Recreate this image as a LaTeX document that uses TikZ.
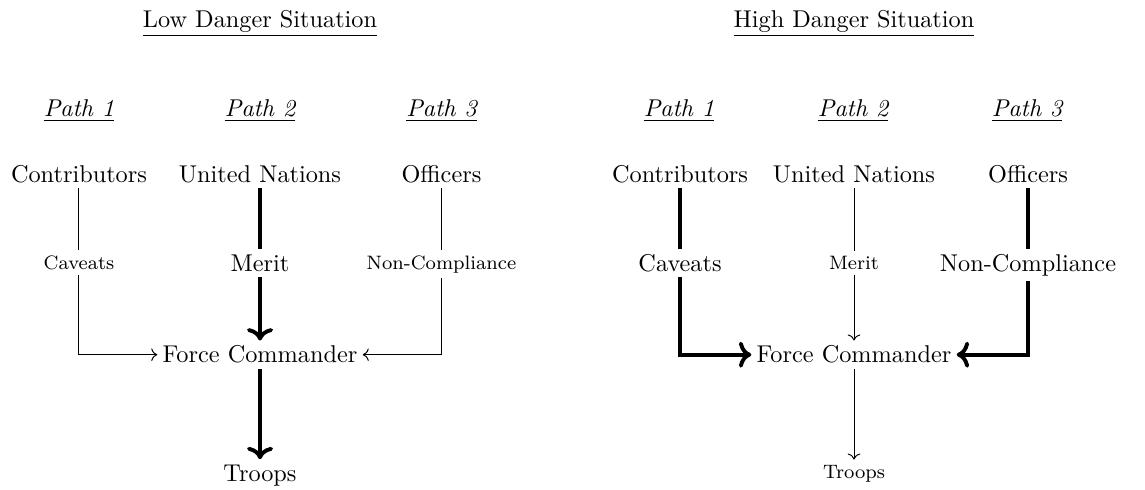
\documentclass[tikz,border=0pt]{standalone}
\usetikzlibrary{arrows.meta}
\begin{document}
\begin{tikzpicture}
[auto,
% STYLES
every node/.style={inner sep=2pt},
% The title style is used to name each situation
title/.style={anchor=base},
% The pathhead style is used for the heading of each path
pathhead/.style={anchor=base, font=\itshape},
% The actor style is used to draw the actors' names at full size
actor/.style={anchor=base},
% The minor style is used to draw the names on the weak paths
minor/.style={anchor=base, font=\footnotesize},
% The link styles are used to draw the paths
weak/.style={->},
strong/.style={-{Computer Modern Rightarrow}, ultra thick}]

\useasboundingbox (0,0) rectangle (16.57,-7.077);

%%%%%%%%%%%%%%%
% Low danger situation
\node [title] (lowtitle) at (3.763,-0.391) {\underline{Low Danger Situation}};
\node [pathhead] (lowpathA) at (1.143,-1.693) {\underline{Path 1}};
\node [pathhead] (lowpathB) at (3.763,-1.693) {\underline{Path 2}};
\node [pathhead] (lowpathC) at (6.389,-1.693) {\underline{Path 3}};

\node [actor] (lowcontrib) at (1.143,-2.634) {Contributors};
\node [actor] (lowun) at (3.763,-2.634) {United Nations};
\node [actor] (lowofficers) at (6.389,-2.634) {Officers};

\node [minor] (lowcaveats) at (1.143,-3.895) {Caveats};
\node [actor] (lowmerit) at (3.763,-3.922) {Merit};
\node [minor] (lownoncomp) at (6.389,-3.895) {Non-Compliance};

\node [actor] (lowfc) at (3.763,-5.253) {Force Commander};
\node [actor] (lowtroops) at (3.763,-6.961) {Troops};

%%%%%%%%%%%%%%%
% High danger situation
\node [title] (hightitle) at (12.359,-0.391) {\underline{High Danger Situation}};
\node [pathhead] (highpathA) at (9.826,-1.693) {\underline{Path 1}};
\node [pathhead] (highpathB) at (12.345,-1.693) {\underline{Path 2}};
\node [pathhead] (highpathC) at (14.863,-1.693) {\underline{Path 3}};

\node [actor] (highcontrib) at (9.841,-2.634) {Contributors};
\node [actor] (highun) at (12.359,-2.634) {United Nations};
\node [actor] (highofficers) at (14.877,-2.634) {Officers};

\node [actor] (highcaveats) at (9.841,-3.922) {Caveats};
\node [minor] (highmerit) at (12.359,-3.895) {Merit};
\node [actor] (highnoncomp) at (14.877,-3.922) {Non-Compliance};

\node [actor] (highfc) at (12.359,-5.253) {Force Commander};
\node [minor] (hightroops) at (12.359,-6.918) {Troops};

%%%%%%%%%%%%%%%
% Draw the links
\draw [weak, -] (lowcontrib) -- (lowcaveats);
\draw [weak] (lowcaveats) |- (lowfc);
\draw [strong, -] (lowun) -- (lowmerit);
\draw [strong] (lowmerit) -- (lowfc);
\draw [weak, -] (lowofficers) -- (lownoncomp);
\draw [weak] (lownoncomp) |- (lowfc);
\draw [strong] (lowfc) -- (lowtroops);

\draw [strong, -] (highcontrib) -- (highcaveats);
\draw [strong] (highcaveats) |- (highfc);
\draw [weak, -] (highun) -- (highmerit);
\draw [weak] (highmerit) -- (highfc);
\draw [strong, -] (highofficers) -- (highnoncomp);
\draw [strong] (highnoncomp) |- (highfc);
\draw [weak] (highfc) -- (hightroops);

\end{tikzpicture}
\end{document}
